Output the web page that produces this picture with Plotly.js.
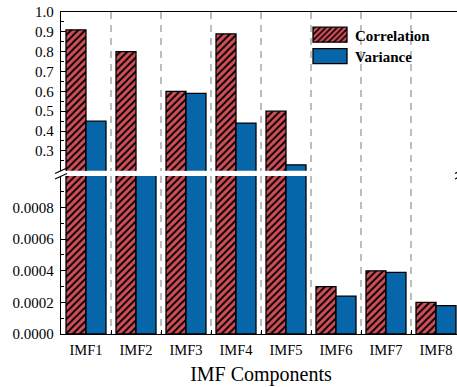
<!DOCTYPE html>
<html><head><meta charset="utf-8">
<script src="https://cdn.plot.ly/plotly-3.0.1.min.js"></script>
<style>html,body{margin:0;padding:0;overflow:hidden;background:#fff}#chart{width:463px;height:387px}</style>
</head><body><div id="chart"></div>
<script>
const categories = ['IMF1','IMF2','IMF3','IMF4','IMF5','IMF6','IMF7','IMF8'];
const correlation = [0.91, 0.80, 0.60, 0.89, 0.50, 0.00030, 0.00040, 0.00020];
const variance = [0.45, 0.10, 0.59, 0.44, 0.23, 0.00024, 0.00039, 0.00018];
const topTicks = [0.3,0.4,0.5,0.6,0.7,0.8,0.9,1.0];
const bottomTicks = [0, 0.0002, 0.0004, 0.0006, 0.0008];

const RED = '#d34e58', BLUE = '#0766a9';
const fontFam = 'Liberation Serif';

function corrTrace(xa, ya, show){
  return {type:'bar', x:categories, y:correlation, name:'Correlation', xaxis:xa, yaxis:ya,
    showlegend:show, legendgroup:'c',
    marker:{color:RED, line:{color:'#000', width:1.3},
      pattern:{shape:'/', fgcolor:'#000', bgcolor:RED, size:5, solidity:0.4}}};
}
function varTrace(xa, ya, show){
  return {type:'bar', x:categories, y:variance, name:'Variance', xaxis:xa, yaxis:ya,
    showlegend:show, legendgroup:'v',
    marker:{color:BLUE, line:{color:'#000', width:1.3}}};
}
const data = [corrTrace('x','y',true), varTrace('x','y',true), corrTrace('x2','y2',false), varTrace('x2','y2',false)];

const L=61, R=461, T=12, B=334;
const px = v => (v-L)/(R-L), py = v => (B-v)/(B-T);
function seg(x0,y0,x1,y1){return {type:'line', xref:'paper', yref:'paper', x0:px(x0), y0:py(y0), x1:px(x1), y1:py(y1), line:{color:'#000', width:1.3}};}

const tf = {family:fontFam, size:15, color:'#000'};
const gridCommon = {showgrid:true, gridcolor:'#bdbdbd', gridwidth:1.3, griddash:'7px,6px', tickson:'boundaries'};
const layout = {
  width:463, height:387,
  margin:{l:61, r:2, t:12, b:53},
  paper_bgcolor:'#fff', plot_bgcolor:'rgba(0,0,0,0)',
  font:{family:fontFam, color:'#000', size:15},
  barmode:'group', bargap:0.2, bargroupgap:0,
  showlegend:true,
  legend:{x:0.61, y:0.98, xanchor:'left', yanchor:'top', bgcolor:'rgba(0,0,0,0)',
    font:{family:fontFam, size:15, weight:'bold', color:'#000'}, tracegroupgap:0, itemwidth:40},
  xaxis:Object.assign({type:'category', anchor:'y', domain:[0,1], showline:true, linecolor:'#000', linewidth:1.3,
    ticks:'inside', ticklen:4, tickcolor:'#000', tickfont:{family:fontFam, size:14.5, color:'#000'}, ticklabelstandoff:2,
    title:{text:'IMF Components', font:{family:fontFam, size:20, color:'#000'}, standoff:10}, zeroline:false}, gridCommon),
  xaxis2:Object.assign({type:'category', anchor:'y2', matches:'x', side:'top', showline:true, linecolor:'#000', linewidth:1.3,
    ticks:'', showticklabels:false, zeroline:false}, gridCommon),
  yaxis:{domain:[0,0.4907], range:[0,0.001], tickmode:'array', tickvals:bottomTicks, tickformat:'.4f', tickfont:tf,
    showline:true, linecolor:'#000', linewidth:1.3, ticks:'inside', ticklen:5, tickcolor:'#000', showgrid:false, zeroline:false,
    ticklabelstandoff:3,
    minor:{tickmode:'linear', tick0:0, dtick:0.0001, ticks:'inside', ticklen:3, tickcolor:'#000', showgrid:false}},
  yaxis2:{domain:[0.507,1], range:[0.2,1.0], tickmode:'array', tickvals:topTicks, tickformat:'.1f', tickfont:tf,
    showline:true, linecolor:'#000', linewidth:1.3, ticks:'inside', ticklen:5, tickcolor:'#000', showgrid:false, zeroline:false,
    ticklabelstandoff:3,
    minor:{tickmode:'linear', tick0:0.2, dtick:0.05, ticks:'inside', ticklen:3, tickcolor:'#000', showgrid:false}},
  shapes:[seg(55,173.5,67,168), seg(55,179,67,173.5), seg(455,173.5,467,168), seg(455,179,467,173.5)]
};

Plotly.newPlot('chart', data, layout, {displayModeBar:false, staticPlot:true}).then(gd => {
  gd.querySelectorAll('.legend .legendpoints path').forEach(p => {
    p.setAttribute('d','M17,7.5H-17V-7.5H17Z');
  });
  const items = gd.querySelectorAll('.legend .traces');
  if (items.length > 1) {
    const t = items[1].getAttribute('transform') || '';
    const m = t.match(/translate\(([-\d.]+)[ ,]+([-\d.]+)\)/);
    if (m) items[1].setAttribute('transform', 'translate(' + m[1] + ',' + (parseFloat(m[2]) - 1) + ')');
  }
});
</script></body></html>
